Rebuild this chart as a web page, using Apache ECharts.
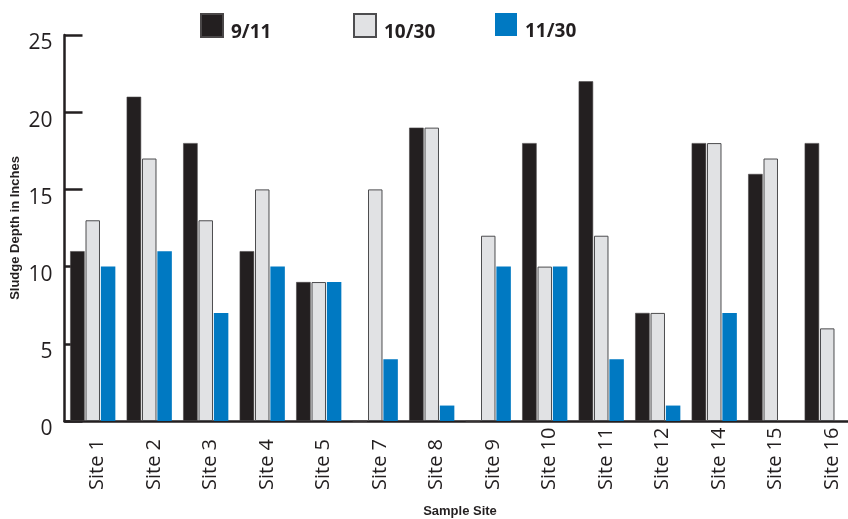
<!DOCTYPE html>
<html><head><meta charset="utf-8">
<script src="https://cdn.jsdelivr.net/npm/echarts@6/dist/echarts.min.js"></script>
<style>html,body{margin:0;padding:0;background:#fff;width:100%;height:100%;overflow:hidden}#c{width:848px;height:519px}</style>
</head><body><div id="c"></div>
<script>
const categories = ['Site 1','Site 2','Site 3','Site 4','Site 5','Site 7','Site 8','Site 9','Site 10','Site 11','Site 12','Site 14','Site 15','Site 16'];
const seriesNames = ['9/11','10/30','11/30'];
const sep11 = [11,21,18,11,9,0,19,0,18,22,7,18,16,18];
const oct30 = [13,17,13,15,9,15,19,12,10,12,7,18,17,6];
const nov30 = [10,11,7,10,9,4,1,10,10,4,1,7,0,0];
const yTicks = [0,5,10,15,20,25];

const FONT = '"Open Sans", "Noto Sans", sans-serif';
const legendText = {fontFamily: FONT, fontWeight: 'bold', fontSize: 19, color: '#231f20',
  rich: {t: {fontFamily: FONT, fontWeight: 'bold', fontSize: 19, color: '#231f20', padding: [14,0,0,3]}}};
function legend(name, left){
  return {data:[name], left:left, top:13, padding:0, itemWidth:22, itemHeight:23, icon:'rect',
    formatter: n => '{t|' + n + '}', textStyle:legendText, selectedMode:false};
}
const chart = echarts.init(document.getElementById('c'));
chart.setOption({
  animation: false,
  legend: [legend(seriesNames[0],200), legend(seriesNames[1],353), legend(seriesNames[2],495)],
  grid: {left: 64.5, right: -7.5, top: 35, bottom: 98, containLabel: false, outerBoundsMode: 'none'},
  xAxis: {
    type: 'category', data: categories,
    axisLine: {lineStyle: {color: '#231f20', width: 2.5}},
    axisTick: {inside: true, length: 8, lineStyle: {color: '#231f20', width: 2.5}},
    axisLabel: {interval: 0, rotate: 90, align: 'left', verticalAlign: 'top', lineHeight: 10, margin: 69,
      fontFamily: FONT, fontSize: 20, color: '#231f20'},
    name: 'Sample Site', nameLocation: 'middle', nameGap: 84, nameMoveOverlap: false,
    nameTextStyle: {fontFamily: '"Liberation Sans", Arial, sans-serif', fontWeight: 'bold', fontSize: 13, color: '#231f20'}
  },
  yAxis: {
    type: 'value', min: 0, max: 25, interval: 5,
    splitLine: {show: false},
    axisLine: {show: true, lineStyle: {color: '#231f20', width: 2.5}},
    axisTick: {show: true, inside: true, length: 18, lineStyle: {color: '#231f20', width: 2.5}},
    axisLabel: {fontFamily: FONT, fontSize: 21, color: '#231f20', margin: 12, verticalAlign: 'top', padding: [-2,0,0,0],
      formatter: v => yTicks.includes(v) ? String(v) : ''},
    name: 'Sludge Depth in Inches', nameLocation: 'middle', nameGap: 43, nameMoveOverlap: false,
    nameTextStyle: {fontFamily: '"Liberation Sans", Arial, sans-serif', fontWeight: 'bold', fontSize: 13, color: '#231f20'}
  },
  series: [
    {name: seriesNames[0], type: 'bar', data: sep11, barGap: '6%', barCategoryGap: '20%',
      itemStyle: {color: '#231f20', borderColor: '#4a4748', borderWidth: 0.6}},
    {name: seriesNames[1], type: 'bar', data: oct30, barGap: '6%', barCategoryGap: '20%',
      itemStyle: {color: '#e1e2e4', borderColor: '#4d4d4f', borderWidth: 1}},
    {name: seriesNames[2], type: 'bar', data: nov30, barGap: '6%', barCategoryGap: '20%',
      itemStyle: {color: '#0079c2'}}
  ]
});
</script></body></html>
